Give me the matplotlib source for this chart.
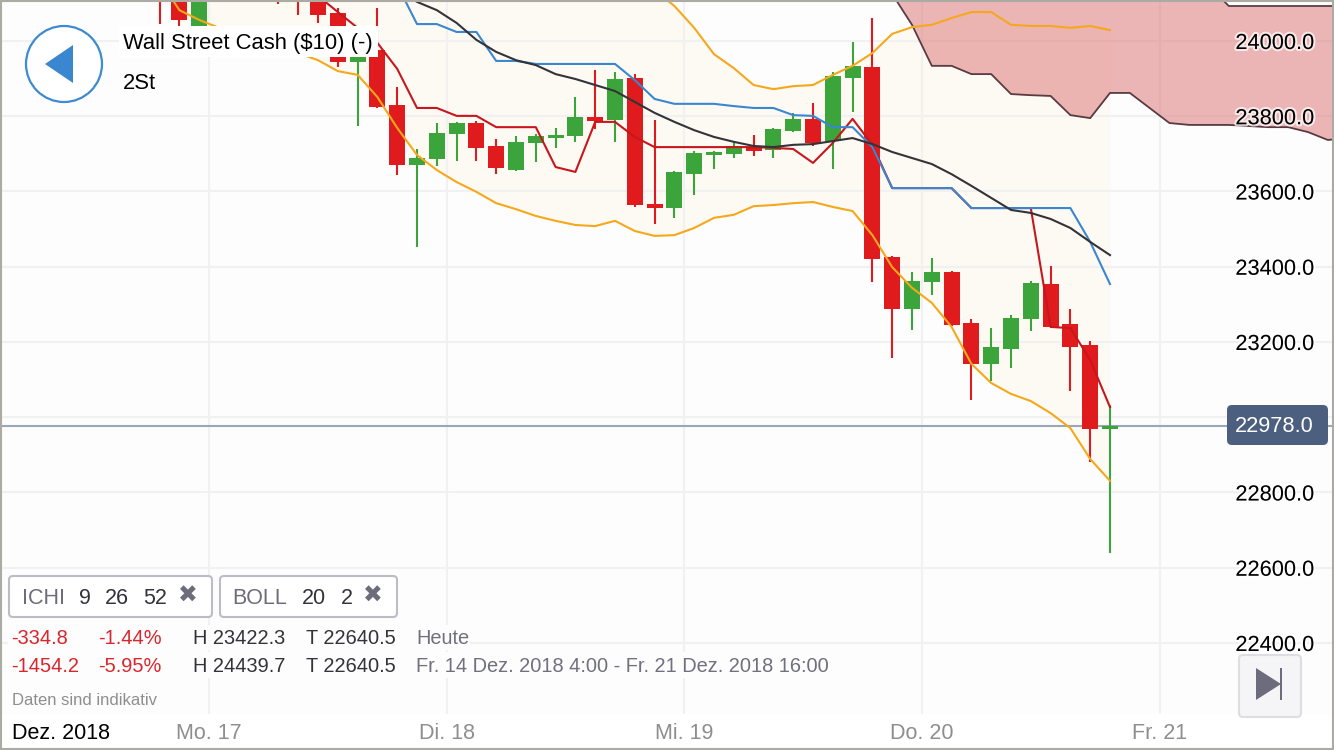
import matplotlib
matplotlib.use("Agg")
import matplotlib.pyplot as plt
import matplotlib.patheffects as pe
from matplotlib.patches import Circle, FancyBboxPatch, Polygon, Rectangle

plt.rcParams['font.family'] = ['Liberation Sans', 'DejaVu Sans']

# ---- data (prices) ----
opens = [24189,24149,24003,24125,24149,24180,24136,24130,24109,24074,23944,23976,23830,23670,23686,23753,23782,23721,23657,23729,23742,23748,23798,23790,23902,23567,23556,23646,23697,23700,23718,23710,23761,23793,23734,23902,23931,23426,23288,23359,23386,23250,23142,23181,23261,23354,23248,23192,22969]
closes = [24122,24056,24136,24162,24189,24150,24117,24104,24069,23944,23957,23825,23670,23689,23755,23782,23716,23662,23732,23748,23750,23798,23787,23899,23564,23556,23652,23702,23705,23721,23708,23766,23793,23729,23907,23934,23421,23288,23362,23386,23245,23142,23187,23264,23357,23240,23187,22969,22978]
highs = [24215,24175,24149,24175,24200,24195,24149,24141,24122,24088,23968,24088,23878,23713,23782,23785,23787,23740,23748,23753,23769,23851,23923,23918,23912,23790,23654,23708,23708,23732,23750,23768,23809,23835,23918,23997,24061,23428,23386,23422,23389,23261,23237,23272,23362,23402,23288,23203,23033]
lows = [24045,24040,23989,24104,24130,24135,24098,24069,24048,23931,23774,23822,23644,23452,23668,23681,23681,23646,23654,23678,23716,23732,23766,23732,23560,23514,23530,23591,23660,23689,23694,23689,23758,23721,23660,23811,23359,23157,23232,23325,23243,23046,23096,23131,23229,23238,23070,22881,22640.5]

boll_upper = [24401,24388,24375,24375,24375,24375,24375,24375,24361,24348,24335,24335,24322,24322,24308,24308,24295,24295,24282,24268,24255,24242,24229,24202,24183,24136,24093,24035,23965,23928,23883,23872,23880,23883,23910,23934,23968,24019,24037,24043,24061,24077,24077,24043,24040,24040,24035,24040,24029]
boll_lower = [24162,24082,24056,24035,24016,24000,23987,23968,23949,23920,23910,23851,23769,23697,23657,23625,23599,23569,23553,23535,23522,23511,23508,23522,23495,23482,23484,23503,23530,23538,23561,23564,23569,23572,23559,23548,23484,23399,23344,23304,23240,23142,23091,23062,23043,23011,22971,22889,22831]
tenkan = [24189,24189,24175,24175,24162,24162,24149,24136,24120,24077,24035,23995,23926,23822,23822,23801,23801,23771,23771,23771,23665,23652,23785,23785,23745,23718,23718,23718,23718,23718,23718,23716,23713,23676,23729,23793,23724,23609,23609,23609,23609,23556,23556,23556,23556,23240,23237,23152,23027]
kijun = [24348,24348,24335,24335,24322,24322,24308,24295,24282,24268,24242,24215,24149,24045,24045,24024,24024,23947,23947,23939,23939,23939,23939,23939,23896,23846,23833,23833,23833,23827,23822,23822,23803,23801,23771,23771,23718,23609,23609,23609,23609,23556,23556,23556,23556,23556,23556,23466,23354]
chikou = [24268,24268,24262,24255,24248,24242,24235,24229,24215,24202,24189,24162,24136,24104,24082,24048,24003,23971,23949,23936,23912,23899,23883,23867,23838,23809,23785,23763,23745,23732,23721,23718,23724,23726,23734,23742,23726,23705,23689,23673,23646,23615,23583,23551,23543,23527,23503,23466,23431]
cloud_upper = [24268,24268,24255,24255,24242,24242,24229,24229,24215,24215,24202,24202,24189,24189,24175,24162,24146,24093,24093,24093,24093,24093,24093,24093]
cloud_lower = [24125,24043,23934,23934,23912,23912,23859,23856,23854,23803,23795,23862,23862,23822,23782,23777,23777,23777,23774,23771,23771,23758,23737,23742]
cloud_start = 37

price_ticks = [22400,22600,22800,23000,23200,23400,23600,23800,24000]
price_labels = ['22400.0','22600.0','22800.0','','23200.0','23400.0','23600.0','23800.0','24000.0']
day_positions = [2.5,14.5,26.5,38.5,50.5]
day_labels = ['Mo. 17','Di. 18','Mi. 19','Do. 20','Fr. 21']
last_price = 22978.0

# ---- figure ----
W, H = 1334, 750
PLOT_H = 714
fig = plt.figure(figsize=(W/100, H/100), dpi=100, facecolor='white')
ax = fig.add_axes([0, 1-PLOT_H/H, 1, PLOT_H/H], facecolor='#FDFDFD')

step = 19.8
ax.set_xlim(48-1110/step, 48+(W-1110)/step)
ppu = 0.37625
ylim = (22400-(PLOT_H-643)/ppu, 22400+643/ppu)
ax.set_ylim(*ylim)

for s in ax.spines.values():
    s.set_visible(False)

idx = list(range(len(opens)))

# band
ax.fill_between(idx, boll_lower, boll_upper, color='#FDFAF4', lw=0, zorder=0.3)

# grid
ax.set_axisbelow(True)
ax.grid(True, color='#F1F1F1', lw=1.5)
ax.set_yticks(price_ticks)
ax.set_xticks(day_positions)
ax.set_xticklabels(day_labels)
ax.tick_params(axis='y', length=0, labelleft=False)
ax.tick_params(axis='x', length=0, pad=6.5, labelsize=15.5, labelcolor='#8E8E8E')

# price axis on a twin so that its labels sit above the cloud
ar = ax.twinx()
ar.set_ylim(*ylim)
ar.set_yticks(price_ticks)
ar.set_yticklabels(price_labels)
ar.grid(False)
ar.patch.set_visible(False)
for s in ar.spines.values():
    s.set_visible(False)
ar.tick_params(axis='y', length=0, direction='in', pad=-71, labelsize=15.7, labelcolor='#000000')
for t in ar.get_yticklabels():
    t.set_path_effects([pe.withStroke(linewidth=3, foreground=(1, 1, 1, 0.7))])

# current price line
ax.axhline(last_price, color='#9AA7B8', lw=1.5, zorder=1.5)

# candles
RED = '#E01B1D'
GREEN = '#3BA53B'
for i in idx:
    col = GREEN if closes[i] >= opens[i] else RED
    ax.vlines(i, lows[i], highs[i], color=col, lw=1.5, zorder=2)
    lo, hi = min(opens[i], closes[i]), max(opens[i], closes[i])
    ax.bar(i, hi-lo, bottom=lo, width=16/step, color=col, lw=0, zorder=2.1)

# cloud
cx = list(range(cloud_start, cloud_start+len(cloud_upper)))
ax.fill_between(cx, cloud_lower, cloud_upper, color='#DB6F6F', alpha=0.5, lw=0, zorder=3)
ax.plot(cx, cloud_lower, color='#5A3B42', lw=1.3, zorder=3.1)
ax.plot(cx, cloud_upper, color='#5A3B42', lw=1.3, zorder=3.1)

# indicator lines
ax.plot(idx, boll_upper, color='#F5A81C', lw=1.5, zorder=3.2)
ax.plot(idx, boll_lower, color='#F5A81C', lw=1.5, zorder=3.2)
ax.plot(idx, tenkan, color='#C8161D', lw=1.5, zorder=3.3)
ax.plot(idx, kijun, color='#3A87CF', lw=1.5, zorder=3.4)
ax.plot(idx, chikou, color='#333338', lw=1.5, zorder=3.5)

# ---- overlay in pixel coordinates ----
ov = fig.add_axes([0, 0, 1, 1], facecolor='none', zorder=10)
ov.set_xlim(0, W)
ov.set_ylim(H, 0)
ov.axis('off')

def label(x, y, s, size, color='#111111', ha='left', **kw):
    ov.text(x, y+1.5, s, fontsize=size, color=color, ha=ha, va='center', **kw)

def box(x0, y0, x1, y1, fc, ec='none', lw=0, r=4, z=1):
    ov.add_patch(FancyBboxPatch((x0+r, y0+r), x1-x0-2*r, y1-y0-2*r,
                 boxstyle=f'round,pad={r},rounding_size={r}', fc=fc, ec=ec, lw=lw, zorder=z))

# title block
ov.add_patch(Rectangle((119, 26), 259, 31, fc='white', ec='none', zorder=1))
label(123, 42, 'Wall Street Cash ($10) (-)', 15.8, '#000000', zorder=2)
label(123, 82, '2St', 15.8, '#000000', zorder=2)

# back button
ov.add_patch(Circle((64, 64), 38, fc='white', ec='#3C8AD0', lw=1.6, zorder=2))
ov.add_patch(Polygon([(45, 64), (73, 45), (73, 83)], fc='#3A87CF', ec='none', zorder=3))

# indicator chips
box(9, 576, 212, 617, '#FFFFFF', '#BCBCC4', 1.5)
label(22, 597, 'ICHI', 15.5, '#6C6C7A', zorder=2)
label(79, 597, '9', 15.5, '#33333B', zorder=2)
label(105, 597, '26', 15.5, '#33333B', zorder=2)
label(143, 597, '52', 15.5, '#33333B', zorder=2)
ov.text(188, 596, '\u2716', fontsize=17, color='#6C6C7A', ha='center', va='center',
        family='DejaVu Sans', zorder=2)
box(220, 576, 397, 617, '#FFFFFF', '#BCBCC4', 1.5)
label(232, 597, 'BOLL', 15.5, '#6C6C7A', zorder=2)
label(302, 597, '20', 15.5, '#33333B', zorder=2)
label(341, 597, '2', 15.5, '#33333B', zorder=2)
ov.text(373, 596, '\u2716', fontsize=17, color='#6C6C7A', ha='center', va='center',
        family='DejaVu Sans', zorder=2)

# info rows
ov.add_patch(Rectangle((8, 625), 462, 25, fc='#FDFDFD', ec='none', zorder=1))
ov.add_patch(Rectangle((8, 652), 822, 26, fc='#FDFDFD', ec='none', zorder=1))
DARK = '#333338'
GREY = '#70707E'
INFO_RED = '#D9252B'
for y, a, b, h, t, note in [(637, '-334.8', '-1.44%', 'H 23422.3', 'T 22640.5', 'Heute'),
                            (665, '-1454.2', '-5.95%', 'H 24439.7', 'T 22640.5',
                             'Fr. 14 Dez. 2018 4:00 - Fr. 21 Dez. 2018 16:00')]:
    label(11, y, a, 14.4, INFO_RED, zorder=2)
    label(98, y, b, 14.4, INFO_RED, zorder=2)
    label(193, y, h, 14.4, DARK, zorder=2)
    label(306, y, t, 14.4, DARK, zorder=2)
    label(416, y, note, 14.4, GREY, zorder=2)
label(12, 699, 'Daten sind indikativ', 12, '#8E8E8E', zorder=2)

# month box
ov.add_patch(Rectangle((2, 716), 121, 32, fc='white', ec='none', zorder=1))
label(12, 732, 'Dez. 2018', 15.5, '#000000', zorder=2)

# price badge
box(1227, 405, 1328, 445, '#4C5F7E', r=5)
label(1235, 425, f'{last_price:.1f}', 15.7, 'white', zorder=2)

# jump-to-end button
box(1239, 655, 1301, 717, '#F5F5F7', '#DDDDE2', 1.5)
ov.add_patch(Polygon([(1256, 668), (1256, 700), (1281, 684)], fc='#6C6C7C', ec='none', zorder=2))
ov.add_patch(Rectangle((1280, 668), 2, 32, fc='#6C6C7C', ec='none', zorder=2))

# outer frame
ov.add_patch(Rectangle((1, 1), W-2, H-2, fc='none', ec='#ABABA3', lw=1.5, zorder=20))

fig.savefig('out.png', dpi=100, facecolor=fig.get_facecolor())
